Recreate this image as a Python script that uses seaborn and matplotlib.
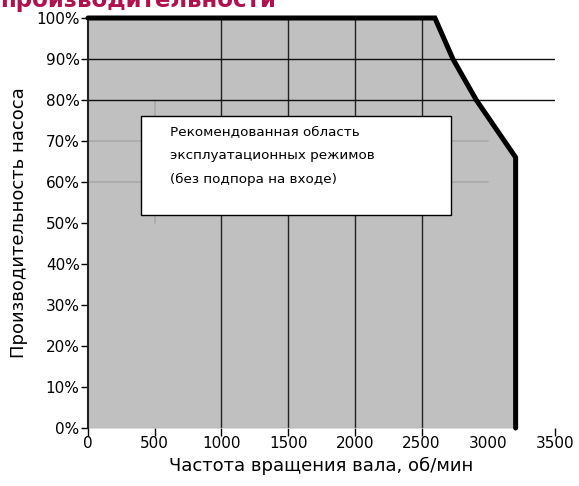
import matplotlib
matplotlib.use("Agg")
import matplotlib.pyplot as plt
import seaborn as sns
import pandas as pd

# Boundary of the recommended operating area
speed = [0, 2600, 2735, 2910, 3205, 3205]
capacity = [100, 100, 90, 80, 66, 0]

x_ticks = [0, 500, 1000, 1500, 2000, 2500, 3000, 3500]
y_ticks = [0, 10, 20, 30, 40, 50, 60, 70, 80, 90, 100]
y_labels = [f"{v}%" for v in y_ticks]

dark_grid = [1000, 1500, 2000, 2500]
dark_hlines = [80, 90]
light_hlines = [60, 70]

note = "Рекомендованная область\nэксплуатационных режимов\n(без подпора на входе)"

sns.set_theme(style="white")
plt.rcParams['font.family'] = ['DejaVu Sans']
plt.rcParams['text.color'] = 'black'
plt.rcParams['axes.labelcolor'] = 'black'

df = pd.DataFrame({"speed": speed, "capacity": capacity})

fig = plt.figure(figsize=(5.79, 4.86), dpi=100)
ax = fig.add_axes([88 / 579, 1 - 428 / 486, (555 - 88) / 579, (428 - 18) / 486])

# grey operating area
ax.fill_between(df["speed"], df["capacity"], 0, color="#c0c0c0", lw=0, zorder=1)

# grid lines as drawn in the original
for v in dark_grid:
    ax.plot([v, v], [0, 100], color="#222222", lw=1.0, zorder=2)
ax.plot([500, 500], [50, 80], color="#a8a8a8", lw=1.2, zorder=2)
for h in dark_hlines:
    ax.plot([0, 3500], [h, h], color="#111111", lw=1.0, zorder=2)
for h in light_hlines:
    ax.plot([0, 3000], [h, h], color="#a8a8a8", lw=1.2, zorder=2)
ax.plot([0, 3205], [0, 0], color="#a0a0a0", lw=1.0, zorder=2)

# thick boundary
sns.lineplot(data=df, x="speed", y="capacity", sort=False, estimator=None,
             color="black", lw=3.6, ax=ax, zorder=5, clip_on=False,
             solid_joinstyle="miter")

# annotation box
ax.add_patch(plt.Rectangle((400, 52), 2320, 24, facecolor="white",
                           edgecolor="black", lw=1.0, zorder=4))
ax.text(615, 73.8, note, fontsize=9.7, va="top", ha="left",
        linespacing=2.05, zorder=6)

ax.set_xlim(0, 3500)
ax.set_ylim(0, 100)
ax.set_xticks(x_ticks)
ax.set_yticks(y_ticks)
ax.set_yticklabels(y_labels)
ax.tick_params(axis="both", labelsize=11, colors="black", direction="out")
ax.tick_params(axis="y", length=5, width=1.0, pad=1, left=True)
ax.tick_params(axis="x", length=6, width=1.0, pad=0, bottom=True)

light = "#c8c8c8"
for t, v in zip(ax.yaxis.get_major_ticks(), y_ticks):
    t.tick1line.set_color("black" if v in (0, 80, 90, 100) else light)
for t, v in zip(ax.xaxis.get_major_ticks(), x_ticks):
    if v == 500:
        t.tick1line.set_color(light)
    elif v == 3000:
        t.tick1line.set_visible(False)
    else:
        t.tick1line.set_color("#222222")

for s in ["top", "right", "bottom"]:
    ax.spines[s].set_visible(False)
ax.spines["left"].set_color("#222222")
ax.spines["left"].set_linewidth(1.5)

ax.set_xlabel("Частота вращения вала, об/мин", fontsize=13, labelpad=4)
ax.set_ylabel("Производительность насоса", fontsize=13, labelpad=6)
ax.grid(False)

fig.text(0.0, 1 - 7 / 486, "производительности", color="#b0124f",
         fontsize=16.5, fontweight="bold", va="baseline", ha="left")

fig.savefig("out.png", dpi=100)
